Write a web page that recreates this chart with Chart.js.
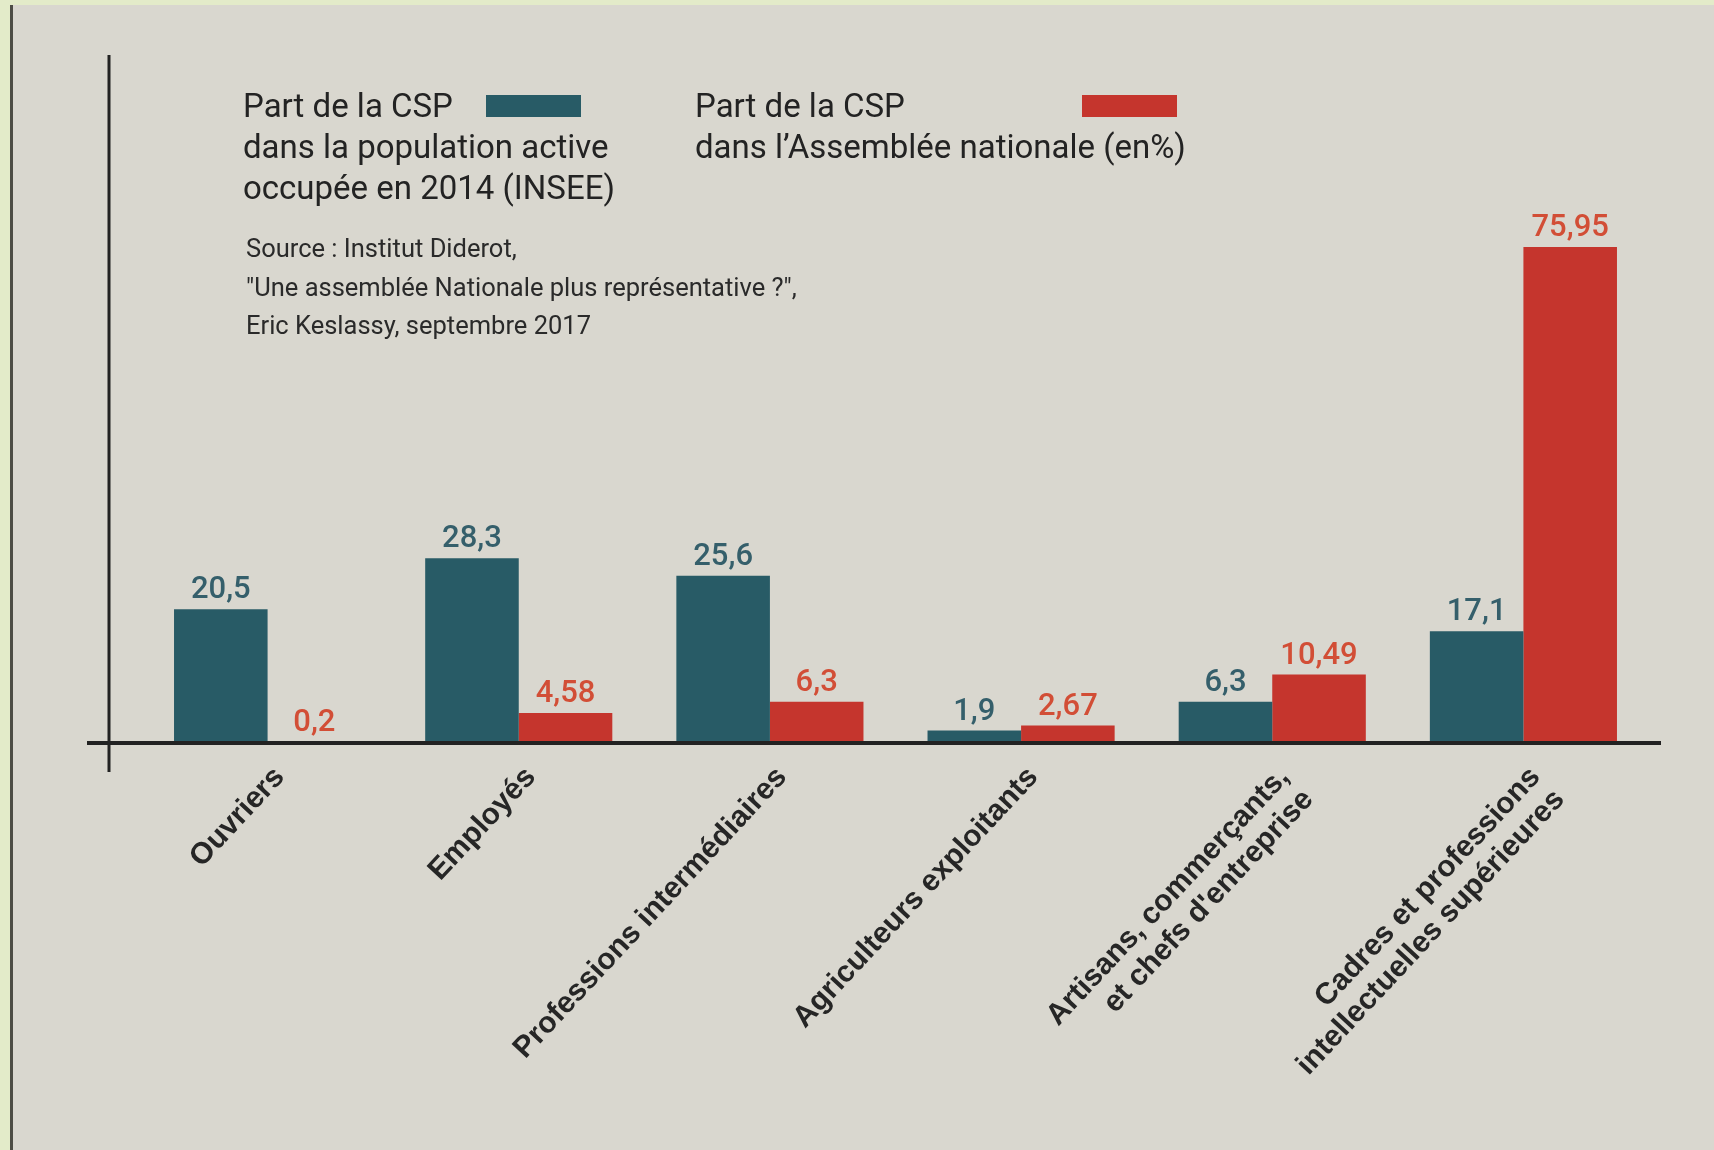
<!DOCTYPE html>
<html lang="fr">
<head>
<meta charset="utf-8">
<title>Part des CSP</title>
<script src="https://cdn.jsdelivr.net/npm/chart.js@4/dist/chart.umd.min.js"></script>
<style>
  html, body { margin: 0; padding: 0; background: #e3ebc9; }
  #frame { position: relative; width: 1714px; height: 1150px; overflow: hidden; }
  #paper { position: absolute; left: 10px; top: 5px; right: 0; bottom: 0; background: #d9d7cf; border-left: 3px solid #4d4d45; }
  #wrap { position: absolute; left: 0; top: 0; width: 1714px; height: 1150px; }
  .leg { position: absolute; font-family: Roboto, sans-serif; font-size: 33px; line-height: 41px; color: #232323; white-space: nowrap; }
  .swatch { position: absolute; height: 22px; width: 95px; }
  #source { position: absolute; left: 246px; top: 229px; font-family: Roboto, sans-serif; font-size: 25.5px; line-height: 38.5px; color: #2a2a2a; white-space: nowrap; }
</style>
</head>
<body>
<div id="frame">
  <div id="paper"></div>
  <div id="wrap"><canvas id="chart"></canvas></div>
  <div class="leg" style="left:243px; top:85px;">Part de la CSP<br>dans la population active<br>occupée en 2014 (INSEE)</div>
  <div class="swatch" style="left:486px; top:95px; background:#285b66;"></div>
  <div class="leg" style="left:695px; top:85px;">Part de la CSP<br>dans l’Assemblée nationale (en%)</div>
  <div class="swatch" style="left:1082px; top:95px; background:#c5352d;"></div>
  <div id="source">Source : Institut Diderot,<br>"Une assemblée Nationale plus représentative ?",<br>Eric Keslassy, septembre 2017</div>
</div>
<script>
"use strict";
// catégories socio-professionnelles (libellés multi-lignes comme sur l'original)
const categories = [
  ["Ouvriers"],
  ["Employés"],
  ["Professions intermédiaires"],
  ["Agriculteurs exploitants"],
  ["Artisans, commerçants,", "et chefs d'entreprise"],
  ["Cadres et professions", "intellectuelles supérieures"],
];
const populationActive = [20.5, 28.3, 25.6, 1.9, 6.3, 17.1];
const assemblee = [0.2, 4.58, 6.3, 2.67, 10.49, 75.95];

const BLUE = "#285b66", RED = "#c5352d";
const BLUE_TXT = "#355f6b", RED_TXT = "#d24e36";
const fmt = (v) => v.toLocaleString("fr-FR");

/* axis lines drawn like the print version: vertical stub at left, thick baseline */
const axisLines = {
  id: "axisLines",
  afterDatasetsDraw(chart) {
    const { ctx, chartArea: a } = chart;
    ctx.save();
    ctx.strokeStyle = "#222";
    ctx.lineWidth = 3;
    ctx.beginPath();
    ctx.moveTo(a.left - 33, 55);
    ctx.lineTo(a.left - 33, a.bottom + 29);
    ctx.stroke();
    ctx.lineWidth = 4;
    ctx.beginPath();
    ctx.moveTo(a.left - 55, a.bottom);
    ctx.lineTo(a.right + 12, a.bottom);
    ctx.stroke();
    ctx.restore();
  },
};

/* value labels above each bar */
const valueLabels = {
  id: "valueLabels",
  afterDatasetsDraw(chart) {
    const { ctx } = chart;
    ctx.save();
    ctx.font = "500 31px Roboto, sans-serif";
    ctx.textAlign = "center";
    ctx.textBaseline = "alphabetic";
    chart.data.datasets.forEach((ds, di) => {
      const meta = chart.getDatasetMeta(di);
      ctx.fillStyle = di === 0 ? BLUE_TXT : RED_TXT;
      meta.data.forEach((bar, i) => {
        ctx.fillText(fmt(ds.data[i]), bar.x, bar.y - 11);
      });
    });
    ctx.restore();
  },
};

new Chart(document.getElementById("chart"), {
  type: "bar",
  data: {
    labels: categories,
    datasets: [
      { label: "Part de la CSP dans la population active occupée en 2014 (INSEE)", data: populationActive, backgroundColor: BLUE },
      { label: "Part de la CSP dans l'Assemblée nationale (en%)", data: assemblee, backgroundColor: RED },
    ],
  },
  options: {
    responsive: true,
    maintainAspectRatio: false,
    animation: false,
    layout: { padding: { left: 142, right: 65, top: 90, bottom: 0 } },
    datasets: { bar: { barPercentage: 1, categoryPercentage: 0.745, borderWidth: 0 } },
    plugins: { legend: { display: false }, tooltip: { enabled: false } },
    scales: {
      x: {
        grid: { display: false, drawTicks: false },
        border: { display: false },
        ticks: {
          autoSkip: false, minRotation: 47, maxRotation: 47, padding: 18, labelOffset: 12,
          color: "#262626",
          font: { family: "'Liberation Sans', Arial, sans-serif", size: 30, weight: "bold", lineHeight: 1.1 },
        },
        afterFit(scale) { scale.height = 1150 - 743; },
      },
      y: { display: false, min: 0, max: 100 },
    },
  },
  plugins: [axisLines, valueLabels],
});
</script>
</body>
</html>
